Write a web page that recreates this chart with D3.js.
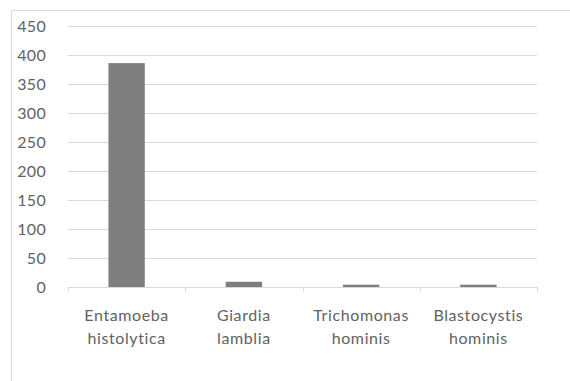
<!DOCTYPE html>
<html>
<head>
<meta charset="utf-8">
<script src="https://cdn.jsdelivr.net/npm/d3@7"></script>
<style>
  html, body { margin: 0; padding: 0; background: #fff; }
  svg { display: block; }
  text { font-family: Lato, "Open Sans", sans-serif; fill: #626262; }
</style>
</head>
<body>
<svg id="chart" width="570" height="381"></svg>
<script>
const categories = [["Entamoeba", "histolytica"], ["Giardia", "lamblia"], ["Trichomonas", "hominis"], ["Blastocystis", "hominis"]];
const values = [386, 9, 4, 4];
const yTicks = [0, 50, 100, 150, 200, 250, 300, 350, 400, 450];

const svg = d3.select("#chart");
const W = 570, H = 381;
const plot = { left: 68, right: 537, top: 26, bottom: 287 };

// chart area frame
svg.append("rect")
  .attr("x", 11.5).attr("y", 10.5)
  .attr("width", W + 10).attr("height", H + 10)
  .attr("fill", "#fff").attr("stroke", "#d9d9d9").attr("stroke-width", 1);

const x = d3.scaleBand()
  .domain(d3.range(categories.length))
  .range([plot.left, plot.right])
  .paddingInner(0.69).paddingOuter(0.345);

const y = d3.scaleLinear().domain([0, 450]).range([plot.bottom, plot.top]);

// horizontal gridlines
svg.append("g").selectAll("line")
  .data(yTicks.filter(d => d > 0))
  .join("line")
  .attr("x1", plot.left).attr("x2", plot.right)
  .attr("y1", d => Math.round(y(d)) + 0.5).attr("y2", d => Math.round(y(d)) + 0.5)
  .attr("stroke", "#d9d9d9").attr("stroke-width", 1);

// y axis labels
const yAxis = d3.axisLeft(y).tickValues(yTicks).tickSize(0).tickPadding(0);
const gy = svg.append("g").attr("transform", `translate(46,0)`).call(yAxis);
gy.select(".domain").remove();
gy.selectAll("text").attr("font-size", 16).attr("fill", "#626262")
  .style("font-family", "Lato, 'Open Sans', sans-serif")
  .attr("letter-spacing", 0.3)
  .attr("dy", "0.34em");

// bars
svg.append("g").selectAll("rect")
  .data(values)
  .join("rect")
  .attr("x", (d, i) => x(i))
  .attr("width", x.bandwidth())
  .attr("y", d => y(d))
  .attr("height", d => y(0) - y(d))
  .attr("fill", "#7f7f7f");

// category axis line with tick marks between bands
const bx = d3.scaleLinear().domain([0, categories.length]).range([plot.left, plot.right]);
const gx = svg.append("g");
gx.append("line")
  .attr("x1", plot.left).attr("x2", plot.right)
  .attr("y1", plot.bottom + 0.5).attr("y2", plot.bottom + 0.5)
  .attr("stroke", "#d9d9d9");
gx.selectAll("line.tick")
  .data(d3.range(categories.length + 1))
  .join("line").attr("class", "tick")
  .attr("x1", d => Math.round(bx(d)) + 0.5).attr("x2", d => Math.round(bx(d)) + 0.5)
  .attr("y1", plot.bottom).attr("y2", plot.bottom + 5)
  .attr("stroke", "#d9d9d9");

// category labels (two lines each)
const lbl = svg.append("g").selectAll("text")
  .data(categories)
  .join("text")
  .attr("text-anchor", "middle")
  .attr("font-size", 16)
  .attr("letter-spacing", 0.6)
  .attr("x", (d, i) => x(i) + x.bandwidth() / 2)
  .attr("y", 321);
lbl.selectAll("tspan")
  .data(d => d)
  .join("tspan")
  .attr("x", function() { return d3.select(this.parentNode).attr("x"); })
  .attr("dy", (d, j) => j === 0 ? 0 : 23)
  .text(d => d);
</script>
</body>
</html>
